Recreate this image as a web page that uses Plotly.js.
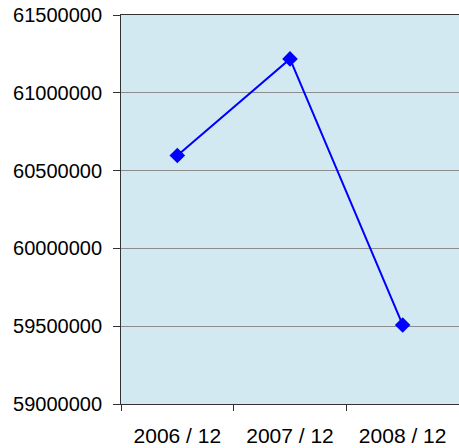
<!DOCTYPE html>
<html><head><meta charset="utf-8">
<script src="https://cdn.plot.ly/plotly-3.0.1.min.js"></script>
<style>html,body{margin:0;padding:0;background:#fff}#c{width:459px;height:448px}</style>
</head><body><div id="c"></div>
<script>
const categories = ["2006 / 12", "2007 / 12", "2008 / 12"];
const values = [60597000, 61218000, 59508000];
const yTicks = [59000000, 59500000, 60000000, 60500000, 61000000, 61500000];

Plotly.newPlot('c', [{
  type: 'scatter', mode: 'lines+markers',
  x: categories, y: values,
  line: {color: '#0000FF', width: 2},
  marker: {symbol: 'diamond', size: 12, color: '#0000FF'}
}], {
  width: 459, height: 448,
  margin: {l: 121, r: 0, t: 15, b: 44},
  paper_bgcolor: '#FFFFFF', plot_bgcolor: '#D3E9F2',
  showlegend: false,
  font: {family: 'Arial', size: 20, color: '#000'},
  xaxis: {type: 'category', tickson: 'boundaries', ticks: 'outside', ticklen: 6, tickcolor: '#333',
    showline: true, linecolor: '#333', linewidth: 1, mirror: true, showgrid: false,
    ticklabelstandoff: 13, range: [-0.5, 2.5], tickfont: {size: 21}},
  yaxis: {range: [59000000, 61500000], tickvals: yTicks, ticktext: yTicks.map(String),
    ticks: 'outside', ticklen: 7, tickcolor: '#333', showline: true, linecolor: '#333', linewidth: 1,
    showgrid: true, gridcolor: '#8C8C8C', gridwidth: 1, zeroline: false, ticklabelstandoff: 7,
    tickfont: {size: 20}}
}, {displayModeBar: false, staticPlot: true});
</script></body></html>
